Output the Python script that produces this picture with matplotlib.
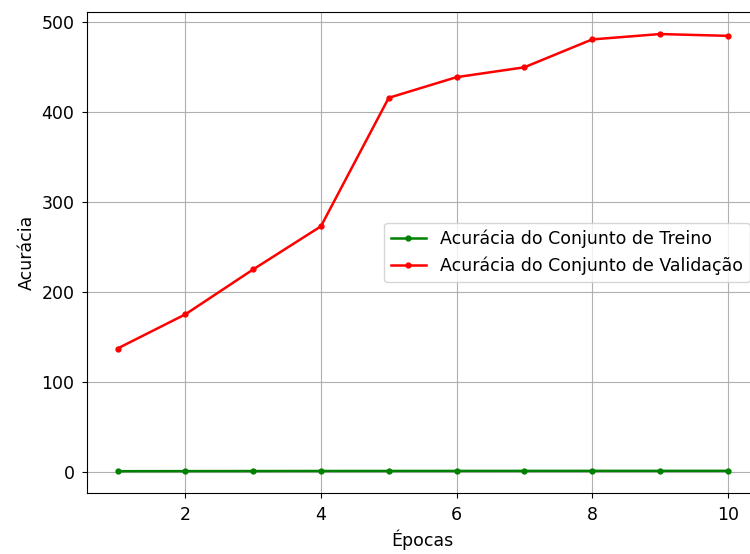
import matplotlib
matplotlib.use("Agg")
import matplotlib.pyplot as plt

# Dados
epocas = [1, 2, 3, 4, 5, 6, 7, 8, 9, 10]
acc_treino = [0.45, 0.55, 0.62, 0.68, 0.72, 0.76, 0.79, 0.82, 0.84, 0.86]
acc_validacao = [137, 175, 225, 273, 416, 439, 450, 481, 487, 485]

plt.rcParams['font.size'] = 12.5
plt.rcParams['xtick.major.pad'] = 5.5
plt.rcParams['ytick.major.pad'] = 5.5

fig = plt.figure(figsize=(7.5, 5.54), dpi=100)
ax = fig.add_axes([0.116, 0.110, 0.895, 0.868])

ax.plot(epocas, acc_treino, 'g.-', lw=1.8, ms=7, label='Acurácia do Conjunto de Treino')
ax.plot(epocas, acc_validacao, 'r.-', lw=1.8, ms=7, label='Acurácia do Conjunto de Validação')
ax.set_xlabel('Épocas')
ax.set_ylabel('Acurácia')
ax.grid(True)
ax.legend(loc='center right')

fig.savefig('out.png', dpi=100)
